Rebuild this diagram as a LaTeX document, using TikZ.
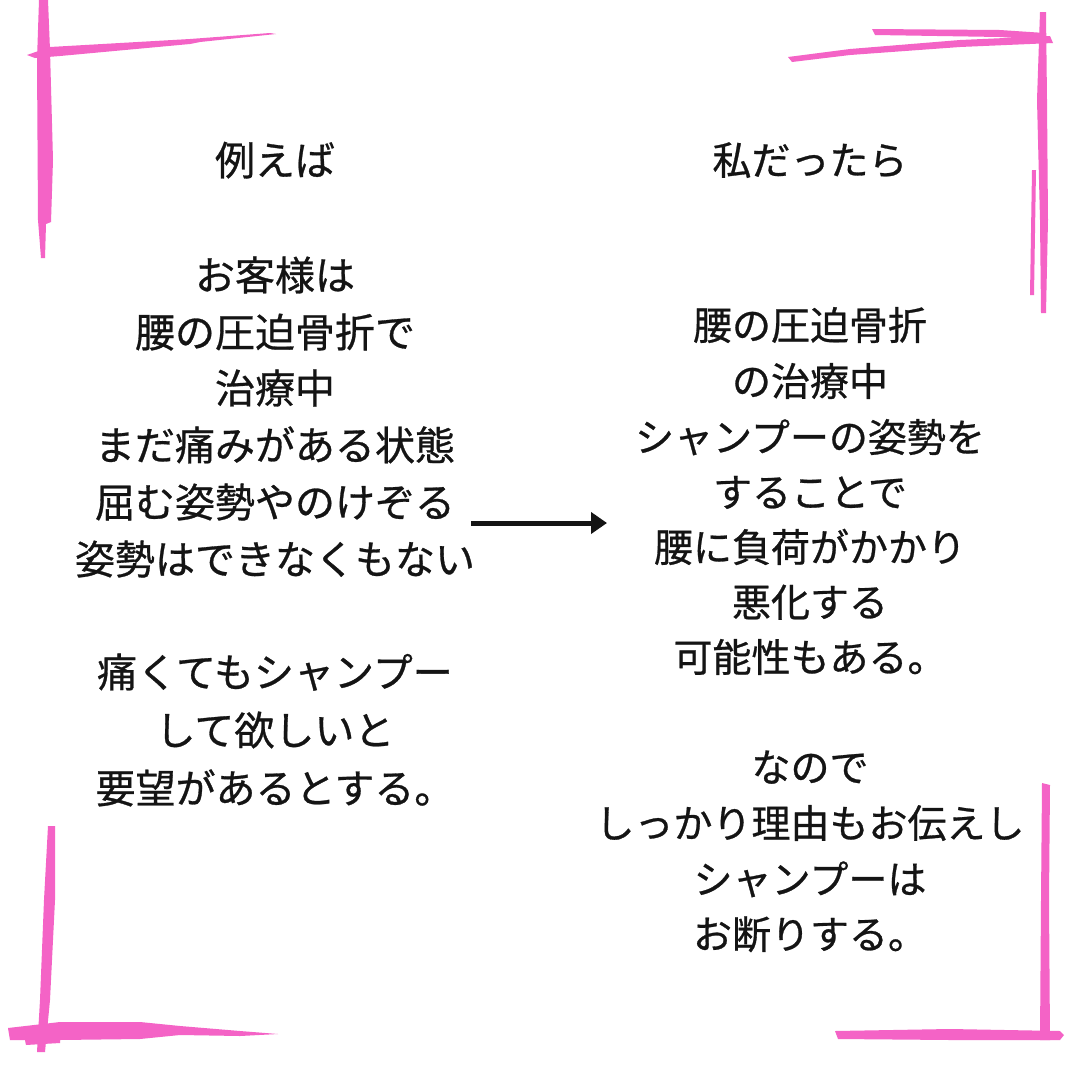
\documentclass[tikz,border=0pt]{standalone}
\usepackage{fontspec}
\setmainfont[FakeBold=0.7]{Noto Sans CJK JP}
\usetikzlibrary{arrows.meta}
\definecolor{brush}{RGB}{244,99,198}
\definecolor{ink}{RGB}{20,20,20}
\tikzset{
  lefttxt/.style={font=\fontsize{40}{48}\selectfont, text=ink, inner sep=0pt, text height=35.2pt, text depth=4.8pt, anchor=center},
  righttxt/.style={font=\fontsize{39}{47}\selectfont, text=ink, inner sep=0pt, text height=34.3pt, text depth=4.7pt, anchor=center},
  stroke/.style={fill=brush, draw=none},
  conn/.style={draw=ink, line width=5pt, -{Triangle[length=16pt,width=21pt]}}
}
\begin{document}
\begin{tikzpicture}[x=1pt,y=-1pt]
\useasboundingbox (0,0) rectangle (1080,1080);
\fill[white] (0,0) rectangle (1080,1080);
% top-left corner
\fill[stroke] (39,0) -- (48,0) -- (50,50) -- (53,160) -- (51,222) -- (46,224) -- (45,258) -- (41,258) -- (38,220) -- (37,60) -- cycle;
\fill[stroke] (27,55) -- (50,47) -- (190,39) -- (270,33) -- (276,34) -- (200,42) -- (190,44) -- (60,56) -- (35,58) -- cycle;
% top-right corner
\fill[stroke] (788,57) -- (850,49) -- (960,40) -- (1050,36) -- (1053,43) -- (960,47) -- (850,55) -- (792,62) -- cycle;
\fill[stroke] (872,29) -- (1000,30) -- (1045,33) -- (1045,40) -- (1000,37) -- (875,35) -- cycle;
\fill[stroke] (1040,12) -- (1046,12) -- (1047,100) -- (1048,220) -- (1046,313) -- (1041,313) -- (1040,220) -- (1037,100) -- cycle;
\fill[stroke] (1032,170) -- (1036,170) -- (1034,295) -- (1030,295) -- cycle;
% bottom-left corner
\fill[stroke] (48,826) -- (55,826) -- (55,900) -- (50,1000) -- (45,1052) -- (37,1052) -- (40,1000) -- (44,900) -- cycle;
\fill[stroke] (8,1028) -- (60,1022) -- (140,1022) -- (180,1026) -- (240,1031) -- (278,1034) -- (240,1036) -- (180,1035) -- (140,1039) -- (60,1040) -- (10,1040) -- cycle;
\fill[stroke] (25,1040) -- (60,1038) -- (60,1043) -- (26,1045) -- cycle;
% bottom-right corner
\fill[stroke] (1042,783) -- (1050,785) -- (1049,900) -- (1050,1040) -- (1040,1040) -- (1041,900) -- cycle;
\fill[stroke] (835,1031) -- (950,1029) -- (1060,1031) -- (1064,1035) -- (1060,1040) -- (950,1040) -- (838,1039) -- cycle;
% left column
\node[lefttxt] (L1) at (275,160) {例えば};
\node[lefttxt] (L2) at (275,275) {お客様は};
\node[lefttxt] (L3) at (275,332) {腰の圧迫骨折で};
\node[lefttxt] (L4) at (275,388) {治療中};
\node[lefttxt] (L5) at (275,445) {まだ痛みがある状態};
\node[lefttxt] (L6) at (275,502) {屈む姿勢やのけぞる};
\node[lefttxt] (L7) at (275,559) {姿勢はできなくもない};
\node[lefttxt] (L8) at (275,672) {痛くてもシャンプー};
\node[lefttxt] (L9) at (275,730) {して欲しいと};
\node[lefttxt] (L10) at (275,788) {要望があるとする。};
% right column
\node[righttxt] (R1) at (810,160) {私だったら};
\node[righttxt] (R2) at (810,325) {腰の圧迫骨折};
\node[righttxt] (R3) at (810,381) {の治療中};
\node[righttxt] (R4) at (810,437) {シャンプーの姿勢を};
\node[righttxt] (R5) at (810,492) {することで};
\node[righttxt] (R6) at (810,547) {腰に負荷がかかり};
\node[righttxt] (R7) at (810,602) {悪化する};
\node[righttxt] (R8) at (810,657) {可能性もある。};
\node[righttxt] (R9) at (810,767) {なので};
\node[righttxt] (R10) at (810,823) {しっかり理由もお伝えし};
\node[righttxt] (R11) at (810,879) {シャンプーは};
\node[righttxt] (R12) at (810,934) {お断りする。};
% arrow
\coordinate (a1) at (471,523);
\coordinate (a2) at (607,523);
\draw[conn] (a1) -- (a2);
\end{tikzpicture}
\end{document}
